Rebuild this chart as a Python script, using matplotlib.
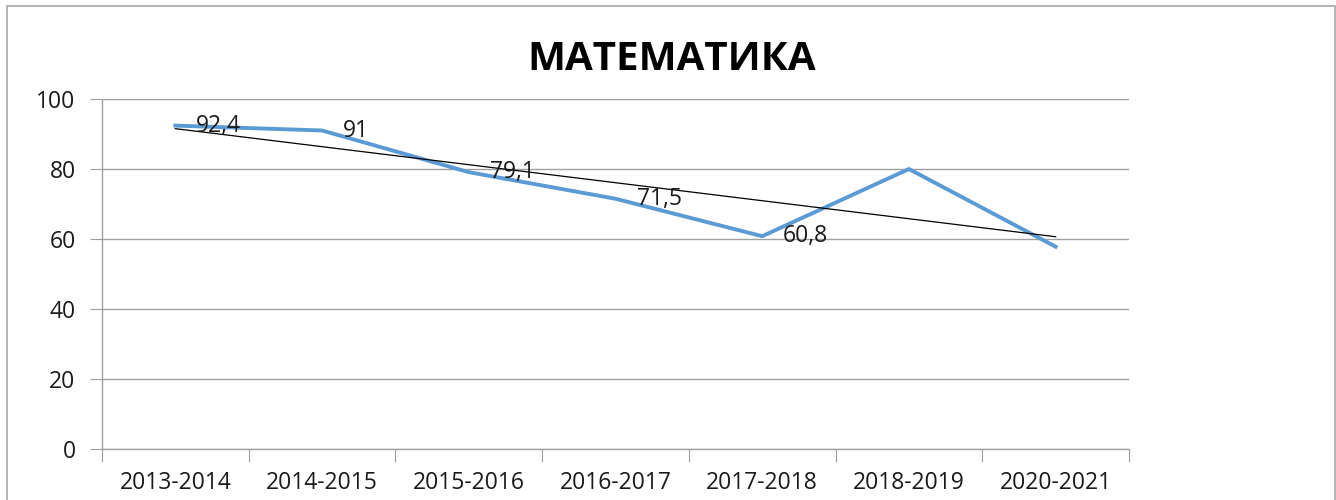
import numpy as np
import matplotlib
matplotlib.use("Agg")
import matplotlib.pyplot as plt
from matplotlib.patches import Rectangle

plt.rcParams['font.family'] = ['Open Sans', 'DejaVu Sans']

title = "МАТЕМАТИКА"
categories = ["2013-2014", "2014-2015", "2015-2016", "2016-2017", "2017-2018", "2018-2019", "2020-2021"]
values = [92.4, 91, 79.1, 71.5, 60.8, 80, 57.8]
labels = ["92,4", "91", "79,1", "71,5", "60,8", None, None]
yticks = [0, 20, 40, 60, 80, 100]

W, H = 1336, 500
fig = plt.figure(figsize=(W / 100, H / 100), dpi=100)
fig.patches.append(Rectangle((7 / W, -0.1), (1335 - 7) / W, 1.1 - 6 / H,
                             transform=fig.transFigure, fill=False,
                             edgecolor='#a6a6a6', linewidth=1.2))

ax = fig.add_axes([102 / W, 1 - 449 / H, (1129 - 102) / W, (449 - 99) / H])
x = np.arange(len(categories))
ax.set_xlim(-0.5, len(categories) - 0.5)
ax.set_ylim(0, 100)

ax.plot(x, values, color='#5b9bd5', linewidth=2.8, solid_joinstyle='round', zorder=3)

# linear trendline
coef = np.polyfit(x, values, 1)
ax.plot(x, np.polyval(coef, x), color='black', linewidth=0.9, zorder=4)

for xi, v, lab in zip(x, values, labels):
    if lab:
        ax.annotate(lab, (xi, v), xytext=(21, 0), textcoords='offset pixels',
                    ha='left', va='center', fontsize=16.5, color='#1a1a1a', zorder=5)

ax.set_yticks(yticks)
ax.yaxis.grid(True, color='#a0a0a0', linewidth=1.0)
ax.set_axisbelow(True)
for s in ['top', 'right']:
    ax.spines[s].set_visible(False)
for s in ['left', 'bottom']:
    ax.spines[s].set_color('#a0a0a0')
    ax.spines[s].set_linewidth(1.0)

ax.set_xticks(np.arange(-0.5, len(categories)), labels=[''] * (len(categories) + 1))
ax.set_xticks(x, labels=categories, minor=True)
ax.tick_params(axis='x', which='major', length=9, color='#a0a0a0', direction='out')
ax.tick_params(axis='x', which='minor', length=0, pad=16, labelsize=16.5, labelcolor='#1a1a1a')
ax.tick_params(axis='y', length=9, color='#a0a0a0', pad=10, labelsize=16.5, labelcolor='#1a1a1a')

fig.text(672 / W, 1 - 59 / H, title, ha='center', va='center',
         fontsize=29, fontweight='bold', color='black')

fig.savefig('out.png', dpi=100, facecolor='white')
